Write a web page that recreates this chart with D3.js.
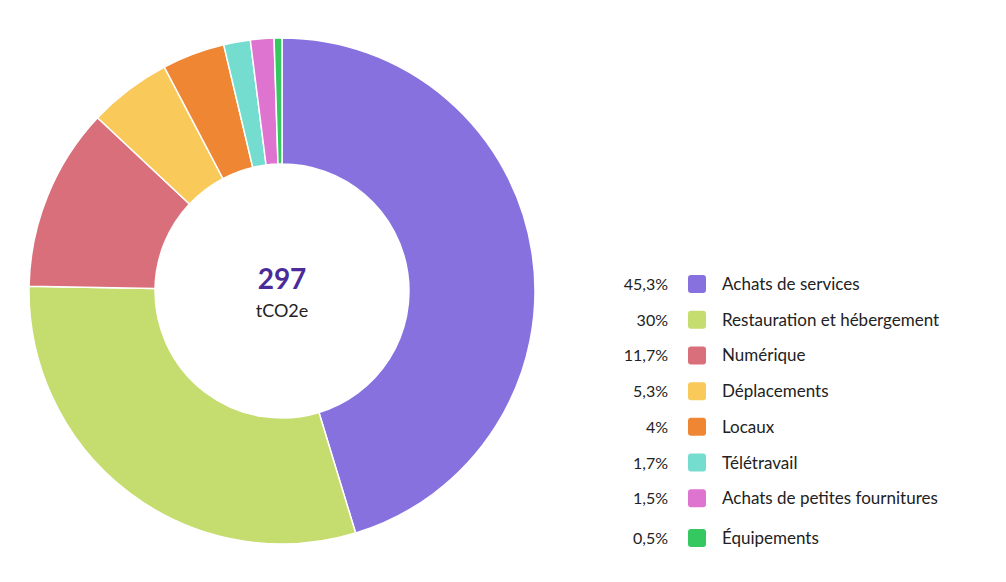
<!DOCTYPE html>
<html><head><meta charset="utf-8">
<script src="https://cdn.jsdelivr.net/npm/d3@7"></script>
<style>body{margin:0;background:#fff;font-family:Lato,"Open Sans",sans-serif}</style>
</head><body><svg id="c" width="1006" height="582"></svg>
<script>
const categories=["Achats de services","Restauration et hébergement","Numérique","Déplacements","Locaux","Télétravail","Achats de petites fournitures","Équipements"];
const values=[45.3,30,11.7,5.3,4,1.7,1.5,0.5];
const labels=["45,3%","30%","11,7%","5,3%","4%","1,7%","1,5%","0,5%"];
const colors=["#8771DE","#C5DC6E","#D96F7A","#F9C95A","#EE8633","#74DDD0","#DE74CF","#35C760"];
const total="297", unit="tCO2e";

const svg=d3.select("#c");
const g=svg.append("g").attr("transform","translate(282,291)");
const pie=d3.pie().sort(null).value(d=>d);
const arc=d3.arc().innerRadius(127).outerRadius(253);
g.selectAll("path").data(pie(values)).join("path")
 .attr("d",arc).attr("fill",(d,i)=>colors[i]).attr("stroke","#fff").attr("stroke-width",1.5);
g.append("text").attr("text-anchor","middle").attr("y",-2).attr("font-size",28).attr("font-weight",700).attr("fill","#4B2A9A").text(total);
g.append("text").attr("text-anchor","middle").attr("y",26).attr("font-size",18).attr("fill","#222").text(unit);

const y=d3.scalePoint().domain(categories).range([284,534]);
const lg=svg.append("g");
const rows=lg.selectAll("g").data(categories).join("g").attr("transform",(d,i)=>`translate(0,${y(d)+(i==7?4:0)})`);
rows.append("text").attr("x",668).attr("y",6).attr("text-anchor","end").attr("font-size",16).attr("fill","#222").text((d,i)=>labels[i]);
rows.append("rect").attr("x",688).attr("y",-9).attr("width",18).attr("height",18).attr("rx",3).attr("fill",(d,i)=>colors[i]);
rows.append("text").attr("x",722).attr("y",6).attr("font-size",17).attr("fill","#222").text(d=>d);
</script></body></html>
